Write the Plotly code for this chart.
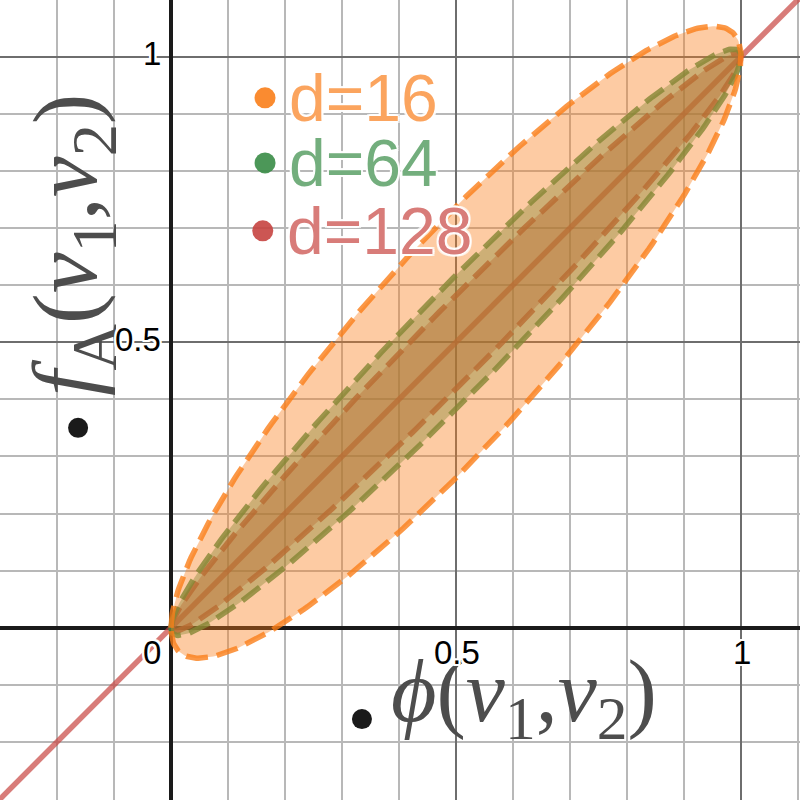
import numpy as np
import plotly.graph_objects as go

# values
d_values = [16, 64, 128]
band_k = [0.475, 0.235, 0.165]          # y = x +/- k*sqrt(x(1-x))
band_rgb = ["250,126,25", "56,140,70", "199,68,64"]

diag_x = [-0.4, 1.2]
diag_y = [-0.4, 1.2]

legend_x = [0.165, 0.165, 0.161]
legend_y = [0.928, 0.814, 0.695]
legend_text = ["d=%d" % d for d in d_values]

label_pt_x = [0.335, -0.163]
label_pt_y = [-0.16, 0.35]

xtick_vals = [0, 0.5, 1]
ytick_vals = [0.5, 1]

outline = ",".join("%dpx %dpx 0 #fff" % (a, b) for a in (-2, 0, 2) for b in (-2, 0, 2))

fig = go.Figure()

fig.add_trace(go.Scatter(x=diag_x, y=diag_y, mode="lines",
                         line=dict(color="rgba(199,68,64,0.7)", width=5.5),
                         hoverinfo="skip"))

t = np.linspace(0, 2 * np.pi, 400)
# draw d=128 first, orange on top (as in the picture)
for k, rgb in reversed(list(zip(band_k, band_rgb))):
    xs = (1 - np.cos(t)) / 2
    ys = xs + k * np.sin(t) / 2
    fig.add_trace(go.Scatter(x=xs, y=ys, mode="lines", fill="toself",
                             fillcolor="rgba(%s,0.4)" % rgb,
                             line=dict(color="rgba(%s,0.8)" % rgb, width=5.5, dash="22px,9px"),
                             hoverinfo="skip"))

fig.add_trace(go.Scatter(
    x=legend_x, y=legend_y, mode="markers",
    marker=dict(size=21, color=["rgba(%s,0.9)" % c for c in band_rgb]),
    hoverinfo="skip"))
for lx, ly, txt, c in zip(legend_x, legend_y, legend_text, band_rgb):
    fig.add_annotation(x=lx, y=ly, xref="x", yref="y", text=txt, showarrow=False,
                       xanchor="left", yanchor="middle", xshift=22, yshift=0,
                       font=dict(family="Liberation Sans", size=66,
                                 color="rgba(%s,0.7)" % c, shadow=outline))

fig.add_trace(go.Scatter(x=label_pt_x, y=label_pt_y, mode="markers",
                         marker=dict(size=20, color="#1a1a1a"), hoverinfo="skip"))

serif = dict(family="Liberation Serif", size=88, color="#4d4d4d")
fig.add_annotation(x=label_pt_x[0], y=label_pt_y[0], xref="x", yref="y",
                   text="<i>ϕ</i>(<i>v</i><sub>1</sub>,<i>v</i><sub>2</sub>)",
                   showarrow=False, xanchor="left", yanchor="middle",
                   xshift=27, yshift=22, font=serif)
fig.add_annotation(x=label_pt_x[1], y=label_pt_y[1], xref="x", yref="y",
                   text="<i>f</i><sub>A</sub>(<i>v</i><sub>1</sub>,<i>v</i><sub>2</sub>)",
                   showarrow=False, textangle=-90, xanchor="center", yanchor="bottom",
                   xshift=-6, yshift=30, font=dict(serif, size=92))

tick_font = dict(family="Liberation Sans", size=33, color="#000", shadow=outline)
for v in xtick_vals:
    fig.add_annotation(x=v, y=0, xref="x", yref="y", text="%g" % v,
                       showarrow=False, xanchor="center", yanchor="middle",
                       xshift=-19 if v == 0 else 1, yshift=-25, font=tick_font)
for v in ytick_vals:
    fig.add_annotation(x=0, y=v, xref="x", yref="y", text="%g" % v,
                       showarrow=False, xanchor="right", yanchor="middle",
                       xshift=-8, yshift=3, font=tick_font)

axis = dict(showticklabels=False, ticks="", dtick=0.5, tick0=0,
            showgrid=True, gridcolor="#6e6e6e", gridwidth=1.5,
            minor=dict(dtick=0.1, tick0=0, showgrid=True, gridcolor="#b8b8b8", gridwidth=1.5),
            zeroline=True, zerolinecolor="#1a1a1a", zerolinewidth=3.5,
            showline=False, fixedrange=True)

fig.update_layout(
    width=800, height=800, margin=dict(l=0, r=0, t=0, b=0),
    plot_bgcolor="white", paper_bgcolor="white", showlegend=False,
    xaxis=dict(axis, range=[-0.3, 1.1035]),
    yaxis=dict(axis, range=[-0.3017, 1.0993]),
)

fig.write_html("out.html", config={"displayModeBar": False},
               post_script="document.body.style.margin='0';")
